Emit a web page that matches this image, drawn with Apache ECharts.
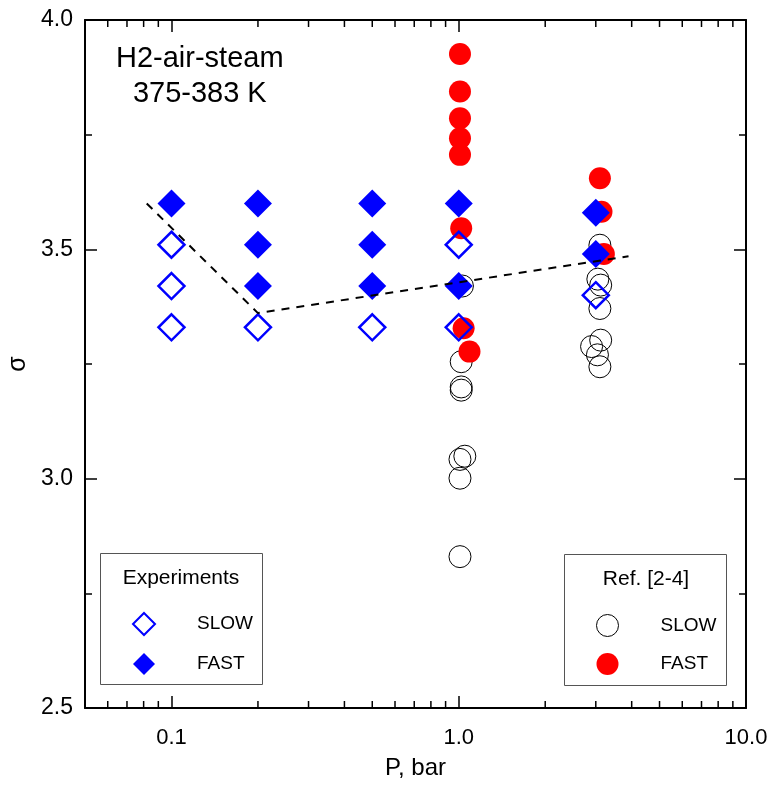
<!DOCTYPE html>
<html>
<head>
<meta charset="utf-8">
<script src="https://cdn.jsdelivr.net/npm/echarts@6/dist/echarts.min.js"></script>
<style>
  html, body { margin: 0; padding: 0; background: #fff; }
  #chart { width: 773px; height: 785px; }
</style>
</head>
<body>
<div id="chart"></div>
<script>
// axis ranges and tick values
const xRange = [0.05, 10];
const yRange = [2.5, 4.0];
const xMinorTicks = [0.06, 0.07, 0.08, 0.09, 0.2, 0.3, 0.4, 0.5, 0.6, 0.7, 0.8, 0.9, 2, 3, 4, 5, 6, 7, 8, 9];

// Experiments (blue diamonds)
const expSlowX = [0.1, 0.1, 0.1, 0.2, 0.5, 1.0, 1.0, 3.0];
const expSlowY = [3.51, 3.42, 3.33, 3.33, 3.33, 3.51, 3.33, 3.40];
const expFastX = [0.1, 0.2, 0.2, 0.2, 0.5, 0.5, 0.5, 1.0, 1.0, 3.0, 3.0];
const expFastY = [3.60, 3.60, 3.51, 3.42, 3.60, 3.51, 3.42, 3.60, 3.42, 3.58, 3.49];

// Ref. [2-4] (circles)
const refSlowX = [1.03, 1.02, 1.02, 1.02, 1.05, 1.01, 1.01, 1.01, 3.10, 3.05, 3.12, 3.10, 2.90, 3.12, 3.04, 3.10];
const refSlowY = [3.42, 3.255, 3.20, 3.193, 3.049, 3.042, 3.001, 2.83, 3.509, 3.435, 3.422, 3.371, 3.288, 3.302, 3.27, 3.244];
const refFastX = [1.01, 1.01, 1.01, 1.01, 1.01, 1.02, 1.04, 1.09, 3.10, 3.14, 3.20];
const refFastY = [3.926, 3.844, 3.786, 3.742, 3.706, 3.546, 3.328, 3.277, 3.655, 3.582, 3.49];

// dashed guide line
const trendX = [0.082, 0.2, 3.9];
const trendY = [3.60, 3.361, 3.485];

const BLUE = '#0000ff';
const RED = '#ff0000';
const FONT = 'Liberation Sans, Arial, sans-serif';

const zip = (xs, ys) => xs.map((x, i) => [x, ys[i]]);

const chart = echarts.init(document.getElementById('chart'));

const xAxisBase = {
  type: 'log',
  logBase: 10,
  min: xRange[0],
  max: xRange[1],
  axisLine: { lineStyle: { color: '#000', width: 2 } },
  axisTick: { inside: true, length: 12, lineStyle: { color: '#000', width: 1.5 } },
  splitLine: { show: false }
};

const yAxisBase = {
  type: 'value',
  min: yRange[0],
  max: yRange[1],
  interval: 0.5,
  axisLine: { show: true, lineStyle: { color: '#000', width: 2 } },
  axisTick: { show: true, inside: true, length: 12, lineStyle: { color: '#000', width: 1.5 } },
  minorTick: { show: true, splitNumber: 2, length: 7, lineStyle: { color: '#000', width: 1.5 } },
  splitLine: { show: false }
};

const legendText = { color: '#000', fontSize: 19, fontFamily: FONT, padding: [0, 0, 0, 37] };

const option = {
  animation: false,
  backgroundColor: '#fff',
  textStyle: { fontFamily: FONT },
  grid: { left: 85, right: 27, top: 20, bottom: 77, outerBoundsMode: 'none' },
  xAxis: [
    Object.assign({}, xAxisBase, {
      position: 'bottom',
      name: 'P, bar',
      nameLocation: 'middle',
      nameGap: 48,
      nameTextStyle: { color: '#000', fontSize: 24, fontFamily: FONT },
      axisLabel: {
        color: '#000', fontSize: 22, fontFamily: FONT, margin: 19,
        formatter: function (v) {
          const l = Math.log10(v);
          return Math.abs(l - Math.round(l)) < 1e-6 ? v.toFixed(1) : '';
        }
      }
    }),
    Object.assign({}, xAxisBase, {
      position: 'top',
      axisLabel: { show: false }
    })
  ],
  yAxis: [
    Object.assign({}, yAxisBase, {
      position: 'left',
      name: 'σ',
      nameLocation: 'middle',
      nameRotate: 90,
      nameGap: 54,
      nameTextStyle: { color: '#000', fontSize: 25, fontFamily: FONT },
      axisLabel: {
        color: '#000', fontSize: 23, fontFamily: FONT, margin: 12,
        formatter: v => v.toFixed(1)
      }
    }),
    Object.assign({}, yAxisBase, {
      position: 'right',
      axisLabel: { show: false }
    })
  ],
  legend: [
    {
      data: ['Exp SLOW', 'Exp FAST'],
      orient: 'vertical',
      left: 132,
      top: 612,
      padding: 0,
      z: 20,
      itemWidth: 22,
      itemHeight: 22,
      itemGap: 17,
      formatter: n => n.replace('Exp ', ''),
      textStyle: legendText
    },
    {
      data: [{ name: 'Ref SLOW', itemStyle: { borderWidth: 1 } }, 'Ref FAST'],
      orient: 'vertical',
      left: 596,
      top: 614,
      padding: 0,
      z: 20,
      itemWidth: 22,
      itemHeight: 22,
      itemGap: 16,
      formatter: n => n.replace('Ref ', ''),
      textStyle: legendText
    }
  ],
  graphic: [
    {
      type: 'text', left: 116, top: 41, z: 10,
      style: {
        text: 'H2-air-steam\n375-383 K', fill: '#000', font: '29px ' + FONT,
        textAlign: 'center', lineHeight: 35
      }
    },
    {
      type: 'rect', z: 5,
      shape: { x: 100.5, y: 553.5, width: 162, height: 131 },
      style: { fill: '#fff', stroke: '#555', lineWidth: 1 }
    },
    {
      type: 'text', z: 6, x: 181, y: 578,
      style: { text: 'Experiments', fill: '#000', font: '21px ' + FONT, align: 'center', verticalAlign: 'middle' }
    },
    {
      type: 'rect', z: 5,
      shape: { x: 564.5, y: 554.5, width: 162, height: 131 },
      style: { fill: '#fff', stroke: '#555', lineWidth: 1 }
    },
    {
      type: 'text', z: 6, x: 646, y: 579,
      style: { text: 'Ref. [2-4]', fill: '#000', font: '21px ' + FONT, align: 'center', verticalAlign: 'middle' }
    }
  ],
  series: [
    {
      // minor log ticks on bottom and top axes
      type: 'custom',
      silent: true,
      clip: false,
      z: 3,
      data: xMinorTicks.map(v => [v, yRange[0]]),
      renderItem: function (params, api) {
        const b = api.coord([api.value(0), yRange[0]]);
        const t = api.coord([api.value(0), yRange[1]]);
        const st = { stroke: '#000', lineWidth: 1.5 };
        return {
          type: 'group',
          children: [
            { type: 'line', shape: { x1: b[0], y1: b[1], x2: b[0], y2: b[1] - 7 }, style: st },
            { type: 'line', shape: { x1: t[0], y1: t[1], x2: t[0], y2: t[1] + 7 }, style: st }
          ]
        };
      }
    },
    {
      name: 'Ref SLOW',
      type: 'scatter',
      symbol: 'circle',
      symbolSize: 22,
      data: zip(refSlowX, refSlowY),
      itemStyle: { color: 'rgba(255,255,255,0)', borderColor: '#000', borderWidth: 1, opacity: 1 },
      z: 2
    },
    {
      name: 'Ref FAST',
      type: 'scatter',
      symbol: 'circle',
      symbolSize: 22,
      data: zip(refFastX, refFastY),
      itemStyle: { color: RED, opacity: 1 },
      z: 2
    },
    {
      name: 'Exp SLOW',
      type: 'scatter',
      symbol: 'diamond',
      symbolSize: 26,
      data: zip(expSlowX, expSlowY),
      itemStyle: { color: 'rgba(255,255,255,0)', borderColor: BLUE, borderWidth: 2.5, opacity: 1 },
      z: 2
    },
    {
      name: 'Exp FAST',
      type: 'scatter',
      symbol: 'diamond',
      symbolSize: 28,
      data: zip(expFastX, expFastY),
      itemStyle: { color: BLUE, opacity: 1 },
      z: 2
    },
    {
      name: 'trend',
      type: 'line',
      data: zip(trendX, trendY),
      symbol: 'none',
      lineStyle: { color: '#000', width: 2, type: [8, 7] },
      z: 3
    }
  ]
};

chart.setOption(option);
</script>
</body>
</html>
